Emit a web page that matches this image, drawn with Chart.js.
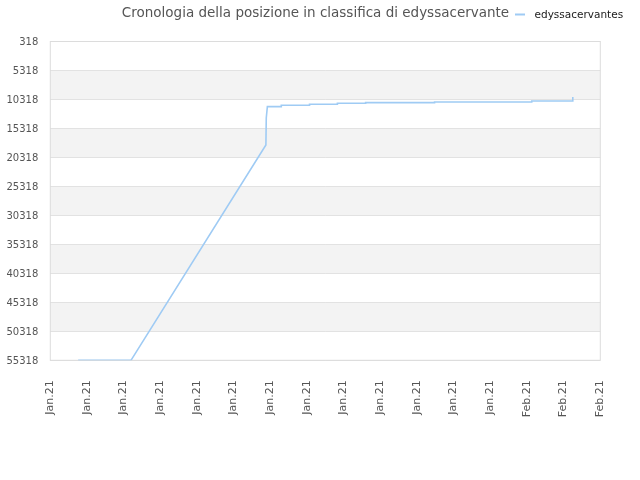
<!DOCTYPE html>
<html>
<head>
<meta charset="utf-8">
<script src="https://cdn.jsdelivr.net/npm/chart.js@4.4.1/dist/chart.umd.min.js"></script>
<style>
  html, body { margin: 0; padding: 0; background: #fff; }
  #wrap { position: relative; width: 640px; height: 480px; }
</style>
</head>
<body>
<div id="wrap"><canvas id="rankChart"></canvas></div>
<script>
'use strict';

const chartTitle = 'Cronologia della posizione in classifica di edyssacervante';
const seriesName = 'edyssacervantes';

// one label per x tick (0..15)
const xLabels = [
  'Jan.21', 'Jan.21', 'Jan.21', 'Jan.21', 'Jan.21', 'Jan.21', 'Jan.21', 'Jan.21',
  'Jan.21', 'Jan.21', 'Jan.21', 'Jan.21', 'Jan.21', 'Feb.21', 'Feb.21', 'Feb.21'
];
const yTicks = [318, 5318, 10318, 15318, 20318, 25318, 30318, 35318, 40318, 45318, 50318, 55318];

// position along the x ticks, and rank
const dayIndex = [0.76, 2.2, 5.88, 5.89, 5.92, 6.3, 6.3, 7.07, 7.07, 7.83, 7.83, 8.6, 8.6, 10.48, 10.48, 13.13, 13.13, 14.25, 14.25];
const rankValues = [55318, 55318, 18170, 13510, 11560, 11560, 11320, 11320, 11150, 11150, 10980, 10980, 10870, 10870, 10750, 10750, 10580, 10580, 9890];

const lineColor = '#9fcbf4';

const bandPlugin = {
  id: 'bands',
  beforeDraw(chart) {
    const { ctx, chartArea, scales } = chart;
    const y = scales.y;
    ctx.save();
    ctx.fillStyle = '#f3f3f3';
    for (let i = 1; i < yTicks.length - 1; i += 2) {
      const top = y.getPixelForValue(yTicks[i]);
      const bottom = y.getPixelForValue(yTicks[i + 1]);
      ctx.fillRect(chartArea.left, top, chartArea.right - chartArea.left, bottom - top);
    }
    ctx.restore();
  }
};

const framePlugin = {
  id: 'frame',
  beforeDatasetsDraw(chart) {
    const { ctx, chartArea } = chart;
    ctx.save();
    ctx.strokeStyle = '#dcdcdc';
    ctx.lineWidth = 1;
    ctx.strokeRect(chartArea.left, chartArea.top, chartArea.right - chartArea.left, chartArea.bottom - chartArea.top);
    ctx.restore();
  }
};

// title and legend share the top row, so draw them by hand
const headerPlugin = {
  id: 'header',
  afterDraw(chart) {
    const { ctx } = chart;
    ctx.save();
    ctx.textBaseline = 'middle';
    ctx.font = '13.5px "DejaVu Sans"';
    ctx.fillStyle = '#555';
    ctx.textAlign = 'center';
    ctx.fillText(chartTitle, 315.5, 13);

    const ds = chart.data.datasets[0];
    ctx.strokeStyle = ds.borderColor;
    ctx.lineWidth = 2;
    ctx.beginPath();
    ctx.moveTo(515, 14.5);
    ctx.lineTo(525, 14.5);
    ctx.stroke();
    ctx.font = '10.5px "DejaVu Sans"';
    ctx.fillStyle = '#1a1a1a';
    ctx.textAlign = 'left';
    ctx.fillText(ds.label, 534.5, 15);
    ctx.restore();
  }
};

const points = dayIndex.map((x, i) => ({ x, y: rankValues[i] }));

new Chart(document.getElementById('rankChart').getContext('2d'), {
  type: 'line',
  data: {
    datasets: [
      {
        label: seriesName,
        data: points,
        borderColor: lineColor,
        borderWidth: 1.6,
        pointRadius: 0,
        tension: 0,
        fill: false
      }
    ]
  },
  options: {
    responsive: true,
    maintainAspectRatio: false,
    animation: false,
    layout: {
      padding: { top: 41.5, right: 39.7, left: 0, bottom: 0 }
    },
    plugins: {
      legend: { display: false },
      title: { display: false },
      tooltip: { enabled: false }
    },
    scales: {
      x: {
        type: 'linear',
        min: 0,
        max: xLabels.length - 1,
        afterBuildTicks: scale => {
          scale.ticks = xLabels.map((_, i) => ({ value: i }));
        },
        afterFit: scale => {
          scale.height = 119.7;
        },
        grid: { display: false },
        border: { display: false },
        ticks: {
          autoSkip: false,
          minRotation: 90,
          maxRotation: 90,
          padding: 12,
          color: '#555',
          font: { family: 'DejaVu Sans', size: 11 },
          callback: value => xLabels[value] ?? ''
        }
      },
      y: {
        type: 'linear',
        reverse: true,
        min: yTicks[0],
        max: yTicks[yTicks.length - 1],
        afterBuildTicks: scale => {
          scale.ticks = yTicks.map(v => ({ value: v }));
        },
        afterFit: scale => {
          scale.width = 50.3;
        },
        grid: { color: '#e2e2e2', drawTicks: false },
        border: { display: false },
        ticks: {
          padding: 12,
          labelOffset: 1,
          color: '#555',
          font: { family: 'DejaVu Sans', size: 10 },
          callback: value => String(value)
        }
      }
    }
  },
  plugins: [bandPlugin, framePlugin, headerPlugin]
});
</script>
</body>
</html>
